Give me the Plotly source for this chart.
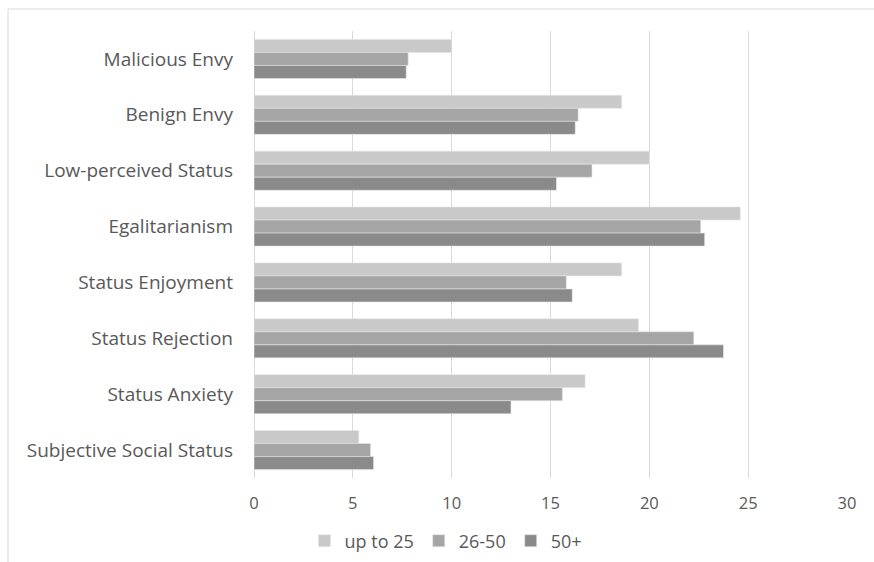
import plotly.graph_objects as go

# Scale scores by age group
categories = [
    "Malicious Envy",
    "Benign Envy",
    "Low-perceived Status",
    "Egalitarianism",
    "Status Enjoyment",
    "Status Rejection",
    "Status Anxiety",
    "Subjective Social Status",
]
up_to_25 = [10.0, 18.6, 20.0, 24.6, 18.6, 19.45, 16.75, 5.3]
age_26_50 = [7.8, 16.4, 17.1, 22.6, 15.8, 22.25, 15.6, 5.9]
age_50_plus = [7.7, 16.25, 15.3, 22.8, 16.1, 23.75, 13.0, 6.05]

series_names = ["up to 25", "26-50", "50+"]
series_values = [up_to_25, age_26_50, age_50_plus]
series_colors = ["#C9C9C9", "#A5A5A5", "#8A8A8A"]

x_ticks = [0, 5, 10, 15, 20, 25, 30]

W, H = 874, 562
L, R, T, B = 254, 27, 31, 84

fig = go.Figure()
for name, vals, col in zip(series_names, series_values, series_colors):
    fig.add_trace(go.Bar(
        y=categories, x=vals, name=name, orientation="h",
        marker=dict(color=col, line=dict(color="#E6E6E6", width=0.6)),
    ))

pw, ph = W - L - R, H - T - B
def px_x(p):
    return (p - L) / pw
def px_y(p):
    return (H - B - p) / ph

font = "Open Sans, Noto Sans, sans-serif"
fig.update_layout(
    width=W, height=H,
    margin=dict(l=L, r=R, t=T, b=B, autoexpand=False),
    paper_bgcolor="white", plot_bgcolor="white",
    barmode="group", bargap=0.3, bargroupgap=0,
    font=dict(family=font, size=18, color="#595959"),
    showlegend=True,
    legend=dict(orientation="h", x=px_x(446), xanchor="center", y=px_y(541), yanchor="middle",
                font=dict(size=18, color="#595959"), itemwidth=30,
                traceorder="normal"),
    xaxis=dict(range=[0, 30], tickvals=x_ticks, showgrid=True, gridcolor="#D9D9D9",
               gridwidth=1.3, zeroline=True, zerolinecolor="#D9D9D9", zerolinewidth=1.3,
               showline=False, ticks="", ticklen=0, ticklabelstandoff=13,
               tickfont=dict(size=16.5, color="#595959")),
    yaxis=dict(autorange="reversed", showgrid=False, showline=False, ticks="",
               ticklabelstandoff=20, tickfont=dict(size=19, color="#595959")),
    shapes=[dict(type="rect", xref="paper", yref="paper",
                 x0=px_x(8), x1=px_x(W + 10), y0=px_y(H + 10), y1=px_y(9),
                 line=dict(color="#D9D9D9", width=1), fillcolor="rgba(0,0,0,0)", layer="below")],
)

fig.write_html("out.html")
